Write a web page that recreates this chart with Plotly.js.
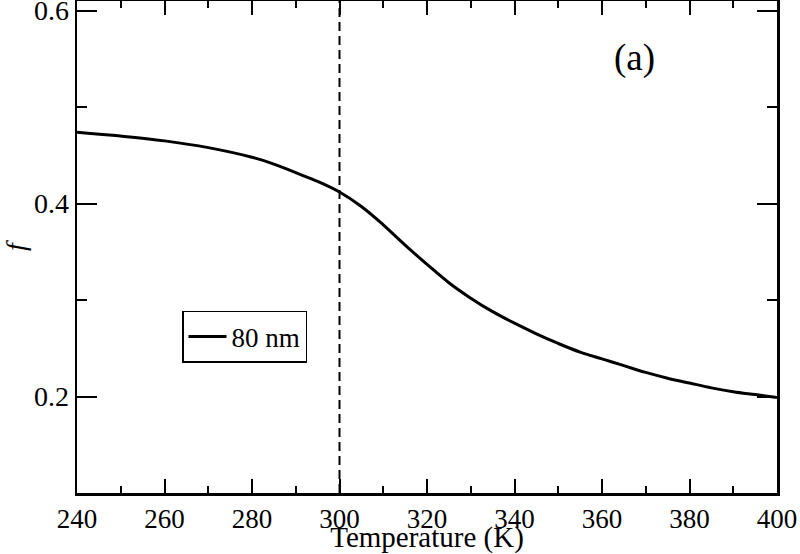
<!DOCTYPE html>
<html>
<head>
<meta charset="utf-8">
<script src="https://cdn.plot.ly/plotly-3.0.1.min.js"></script>
<style>html,body{margin:0;padding:0;background:#fff;}#chart{width:800px;height:554px;}</style>
</head>
<body>
<div id="chart"></div>
<script>
// Temperature (K) and fraction f for the 80 nm curve
const temperature = [240, 250, 260, 270, 280, 285, 290, 295, 300, 305, 310, 315, 320, 325, 330, 335, 340, 345, 350, 355, 360, 365, 370, 375, 380, 385, 390, 395, 400];
const fValues     = [0.474, 0.470, 0.465, 0.458, 0.448, 0.441, 0.432, 0.423, 0.412, 0.397, 0.378, 0.357, 0.337, 0.318, 0.302, 0.288, 0.276, 0.265, 0.255, 0.246, 0.239, 0.232, 0.225, 0.219, 0.214, 0.209, 0.205, 0.202, 0.199];
const seriesName = "80 nm";
const markerT = [300, 300];
const markerF = [0.1, 0.61];
const xTicks = [240, 260, 280, 300, 320, 340, 360, 380, 400];
const yTicks = [0.2, 0.4, 0.6];

const FAM = "Liberation Serif";

const traces = [
  {x: markerT, y: markerF, mode: "lines", showlegend: false, hoverinfo: "skip",
   line: {color: "#000", width: 2, dash: "9px,5px"}},
  {x: temperature, y: fValues, mode: "lines", name: seriesName,
   line: {color: "#000", width: 3, shape: "spline", smoothing: 1}}
];

const layout = {
  width: 800, height: 554,
  margin: {l: 77, r: 23, t: 1, b: 61},
  paper_bgcolor: "#fff", plot_bgcolor: "#fff",
  font: {family: FAM, color: "#000", size: 28},
  xaxis: {
    showgrid: false, zeroline: false, showline: true, linecolor: "#000", linewidth: 2.5,
    mirror: "ticks", ticks: "inside", tickcolor: "#000", tickwidth: 2, ticklen: 14,
    tickmode: "array", tickvals: xTicks, ticktext: xTicks.map(String),
    tickfont: {family: FAM, size: 27, color: "#000"}, ticklabeloverflow: "allow",
    range: [240, 400],
    minor: {dtick: 10, ticks: "inside", ticklen: 7, tickcolor: "#000", tickwidth: 2},
    title: {text: "Temperature (K)", font: {family: FAM, size: 29, color: "#000"}, standoff: 0}
  },
  yaxis: {
    showgrid: false, zeroline: false, showline: true, linecolor: "#000", linewidth: 2.5,
    mirror: "ticks", ticks: "inside", tickcolor: "#000", tickwidth: 2, ticklen: 20,
    tickmode: "array", tickvals: yTicks, ticktext: yTicks.map(v => v.toFixed(1)),
    tickfont: {family: FAM, size: 28, color: "#000"}, ticklabeloverflow: "allow",
    range: [0.1, 0.61],
    minor: {dtick: 0.1, ticks: "inside", ticklen: 10, tickcolor: "#000", tickwidth: 2},
    title: {text: "<i>f</i>", font: {family: FAM, size: 28, color: "#000"}, standoff: 30}
  },
  showlegend: true,
  legend: {x: 0.15, y: 0.37, xanchor: "left", yanchor: "top", bgcolor: "#fff",
    bordercolor: "#000", borderwidth: 1.5, font: {family: FAM, size: 27, color: "#000"},
    itemwidth: 38},
  annotations: [
    {xref: "paper", yref: "paper", x: 0.797, y: 0.884, xanchor: "center", yanchor: "middle",
     text: "(a)", showarrow: false, font: {family: FAM, size: 37, color: "#000"}}
  ]
};

Plotly.newPlot("chart", traces, layout, {displayModeBar: false, staticPlot: true});
</script>
</body>
</html>
